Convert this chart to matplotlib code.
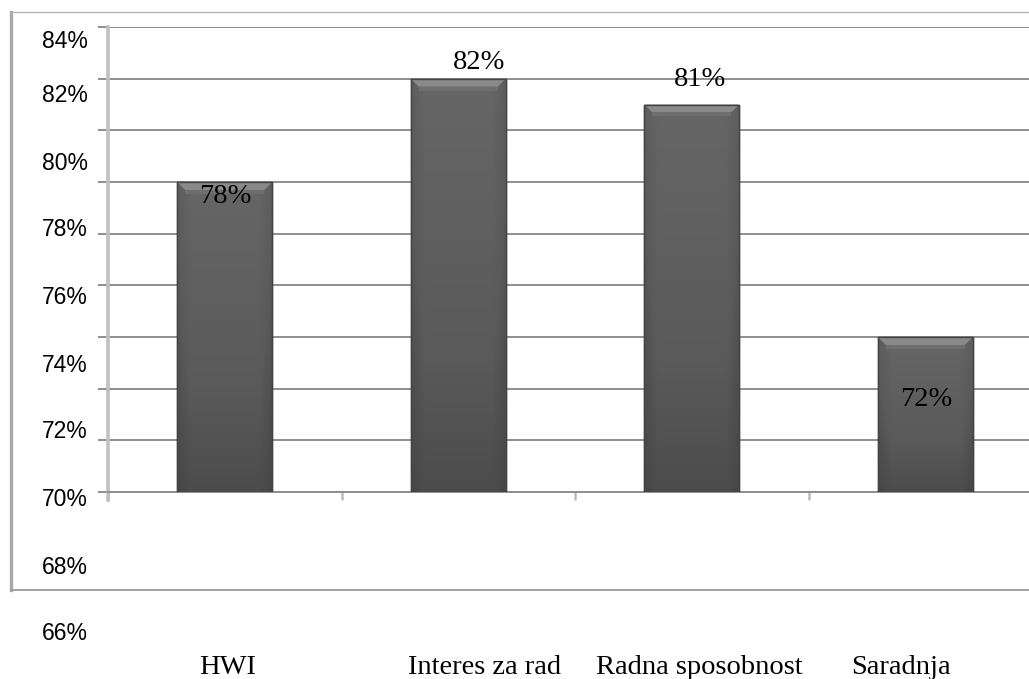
import numpy as np
import matplotlib
matplotlib.use("Agg")
import matplotlib.pyplot as plt
from matplotlib.patches import Polygon
from matplotlib.colors import LinearSegmentedColormap

# --- data -----------------------------------------------------------------
categories = ["HWI", "Interes za rad", "Radna sposobnost", "Saradnja"]
values = [78, 82, 81, 72]                      # percent
value_labels = ["78%", "82%", "81%", "72%"]
axis_min, axis_max, axis_step = 66, 84, 2
ytick_labels = ["84%", "82%", "80%", "78%", "76%", "74%", "72%", "70%", "68%", "66%"]

# --- layout (pixels of a 1029 x 679 canvas) -------------------------------
W, H = 1029, 679
ytick_label_y = [42, 95, 163, 230, 297, 365, 432, 500, 567, 633]
ytick_label_right = 88
category_label_x = [228, 485, 699, 901]
category_label_baseline = 674
# value-label offsets from the bar's top centre: (dx px, baseline dy px, +up)
value_label_offsets = [(1, -21), (21, 10), (8, 18), (1, -69)]

serif = ["Liberation Serif", "DejaVu Serif"]
sans = ["Liberation Sans", "DejaVu Sans"]

fig = plt.figure(figsize=(W / 100, H / 100), dpi=100)
fig.patch.set_facecolor("white")


def fx(px):
    return px / W


def fy(py):
    return 1 - py / H


# outer chart frame
frame = fig.add_axes([fx(11), fy(590), 1.0, (590 - 12) / H], zorder=0)
frame.set_facecolor("none")
frame.set_xticks([])
frame.set_yticks([])
frame.spines["right"].set_visible(False)
frame.spines["left"].set_color("#a8a8a8")
frame.spines["left"].set_linewidth(2.4)
frame.spines["bottom"].set_color("#9a9a9a")
frame.spines["bottom"].set_linewidth(1.3)
frame.spines["top"].set_color("#b4b4b4")
frame.spines["top"].set_linewidth(1.0)

# plot area
ax = fig.add_axes([fx(108), fy(492), (1042 - 108) / W, (492 - 27) / H], zorder=2)
ax.set_facecolor("none")
ax.set_xlim(-0.5, len(categories) - 0.5)
ax.set_ylim(axis_min, axis_max)

grid_color = "#8e8e8e"
ax.set_yticks(np.arange(axis_min, axis_max + 0.1, axis_step))
ax.yaxis.grid(True, color=grid_color, linewidth=1.4)
ax.set_axisbelow(True)
ax.tick_params(axis="y", length=7.5, width=1.4, color=grid_color, labelleft=False)
ax.set_xticks(np.arange(-0.5, len(categories) - 0.4, 1.0))
ax.tick_params(axis="x", length=6, width=1.8, color="#bdbdbd", labelbottom=False)
for s in ("top", "right"):
    ax.spines[s].set_visible(False)
ax.spines["left"].set_color("#c0c0c0")
ax.spines["left"].set_linewidth(2.6)
ax.spines["left"].set_bounds(axis_min - 0.3, axis_max)
ax.spines["bottom"].set_color(grid_color)
ax.spines["bottom"].set_linewidth(1.4)

# bars with a vertical shade and a bevelled top edge
bar_width = 0.407
x = np.arange(len(categories))
bars = ax.bar(x, np.array(values) - axis_min, width=bar_width, bottom=axis_min,
              color="#5a5a5a", edgecolor="#444444", linewidth=1.0, zorder=3)

shade = LinearSegmentedColormap.from_list("shade", ["#3e3e3e", "#5a5a5a", "#666666"])
grad = np.linspace(0.25, 1, 256).reshape(-1, 1)
side = np.concatenate([np.linspace(0.6, 1, 10), np.ones(44), np.linspace(1, 0.6, 10)])
img = grad * side.reshape(1, -1)

px_x = 233.5   # pixels per category
px_y = 26.0    # pixels per percent
for rect in bars:
    x0, y0 = rect.get_x(), rect.get_y()
    w, h = rect.get_width(), rect.get_height()
    im = ax.imshow(img, extent=[x0, x0 + w, y0, y0 + h], origin="lower",
                   cmap=shade, aspect="auto", zorder=3.5, vmin=0, vmax=1)
    im.set_clip_path(rect)
    top = y0 + h
    bx, by = 8 / px_x, 8 / px_y
    bevel = Polygon([(x0, top), (x0 + w, top), (x0 + w - bx, top - by), (x0 + bx, top - by)],
                    closed=True, facecolor="#8a8a8a", edgecolor="none", zorder=3.6)
    ax.add_patch(bevel)
    glow = Polygon([(x0 + bx, top - by), (x0 + w - bx, top - by),
                    (x0 + w - bx, top - by * 1.5), (x0 + bx, top - by * 1.5)],
                   closed=True, facecolor="#6e6e6e", edgecolor="none", zorder=3.6)
    ax.add_patch(glow)
    ax.plot([x0, x0, x0 + w, x0 + w], [y0, top, top, y0], color="#444444",
            linewidth=1.0, zorder=3.7, solid_joinstyle="miter")

ax.set_xlim(-0.5, len(categories) - 0.5)
ax.set_ylim(axis_min, axis_max)

# value labels
for xi, v, lab, (dx, dy) in zip(x, values, value_labels, value_label_offsets):
    ax.annotate(lab, xy=(xi, v), xytext=(dx * 0.72, dy * 0.72), textcoords="offset points",
                ha="center", va="baseline", fontsize=20.5, family=serif, color="black",
                zorder=5, annotation_clip=False)

# y-axis labels
for lab, py in zip(ytick_labels, ytick_label_y):
    fig.text(fx(ytick_label_right), fy(py), lab, ha="right", va="center",
             fontsize=16.5, family=sans, color="black")

# category labels
for lab, px in zip(categories, category_label_x):
    fig.text(fx(px), fy(category_label_baseline), lab, ha="center", va="baseline",
             fontsize=20.5, family=serif, color="black")

fig.savefig("out.png", dpi=100, facecolor="white")
